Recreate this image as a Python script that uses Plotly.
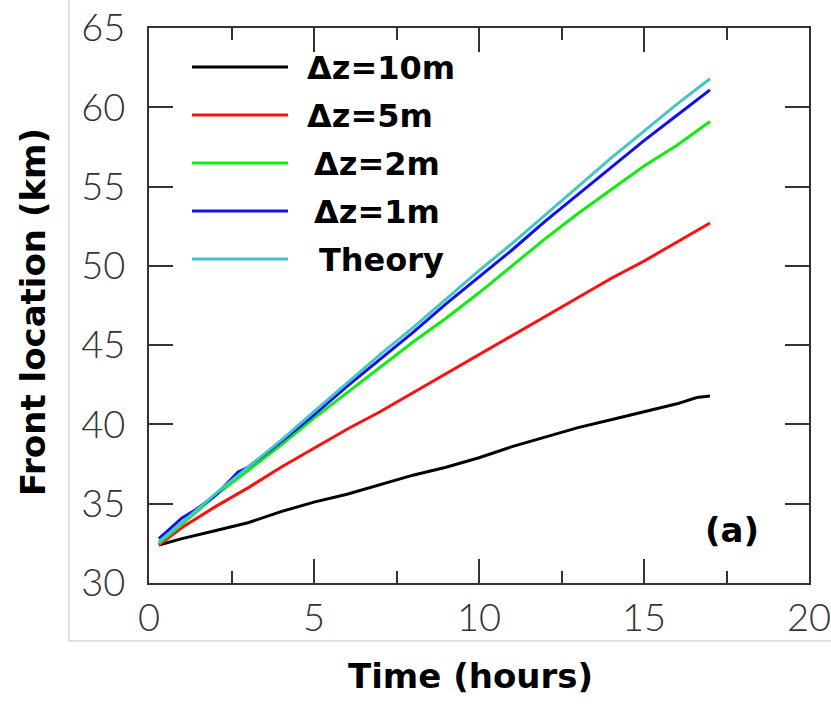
import plotly.graph_objects as go

# ---- data ----
t_black = [0.3, 1, 2, 3, 4, 5, 6, 7, 8, 9, 10, 11, 12, 13, 14, 15, 16, 16.6, 17]
v_black = [32.4, 32.8, 33.3, 33.8, 34.5, 35.1, 35.6, 36.2, 36.8, 37.3, 37.9, 38.6, 39.2, 39.8, 40.3, 40.8, 41.3, 41.7, 41.8]

t_red = [0.3, 0.7, 1, 2, 3, 4, 5, 6, 7, 8, 9, 10, 11, 12, 13, 14, 15, 16, 17]
v_red = [32.4, 33.0, 33.5, 34.8, 36.0, 37.3, 38.5, 39.7, 40.8, 42.0, 43.2, 44.4, 45.6, 46.8, 48.0, 49.2, 50.3, 51.5, 52.7]

t_green = [0.3, 1, 2, 3, 4, 5, 6, 7, 8, 9, 10, 11, 12, 13, 14, 15, 16, 17]
v_green = [32.5, 33.7, 35.5, 37.1, 38.7, 40.4, 42.0, 43.6, 45.2, 46.7, 48.3, 50.0, 51.7, 53.3, 54.8, 56.3, 57.6, 59.1]

t_blue = [0.3, 1, 1.4, 2, 2.7, 3, 4, 5, 6, 7, 8, 9, 10, 11, 12, 13, 14, 15, 16, 17]
v_blue = [32.8, 34.1, 34.6, 35.5, 37.0, 37.3, 38.9, 40.6, 42.4, 44.1, 45.8, 47.6, 49.3, 51.0, 52.8, 54.5, 56.2, 57.9, 59.5, 61.1]

t_theory = [0.3, 1, 2, 3, 4, 5, 6, 7, 8, 9, 10, 11, 12, 13, 14, 15, 16, 17]
v_theory = [32.6, 33.8, 35.6, 37.3, 39.0, 40.8, 42.6, 44.4, 46.1, 47.9, 49.7, 51.4, 53.2, 55.0, 56.8, 58.5, 60.2, 61.8]

series_names = ["\u0394z=10m", "\u0394z=5m", "\u0394z=2m", "\u0394z=1m", "Theory"]
series_t = [t_black, t_red, t_green, t_blue, t_theory]
series_v = [v_black, v_red, v_green, v_blue, v_theory]
series_colors = ["#000000", "#ff1010", "#10ee10", "#1010f0", "#45c6c6"]

x_ticks = [0, 5, 10, 15, 20]
y_ticks = [30, 35, 40, 45, 50, 55, 60, 65]

# ---- layout geometry (pixels) ----
W, H = 831, 711
L, R, T, B = 149, 809, 28, 583


def px(x):
    return (x - L) / (R - L)


def py(y):
    return (B - y) / (B - T)


fig = go.Figure()
for name, tt, vv, col in zip(series_names, series_t, series_v, series_colors):
    fig.add_trace(go.Scatter(x=tt, y=vv, mode="lines", name=name,
                             line=dict(color=col, width=3), showlegend=False))

axis_common = dict(
    showgrid=False, zeroline=False, showline=True, linecolor="#333333", linewidth=2,
    mirror="allticks", ticks="inside", ticklen=24, tickwidth=2, tickcolor="#333333",
    tickfont=dict(family="Lato", size=38, color="#333333", weight=300),
    ticklabeloverflow="allow", automargin=False,
)

fig.update_xaxes(range=[0, 20], tickvals=x_ticks, ticktext=[str(v) for v in x_ticks],
                 minor=dict(ticks="inside", ticklen=12, dtick=2.5, tick0=0,
                            tickwidth=2, tickcolor="#333333"),
                 ticklabelstandoff=0, **axis_common)
fig.update_yaxes(range=[30, 65], tickvals=y_ticks, ticktext=[str(v) for v in y_ticks],
                 ticklabelstandoff=14, **axis_common)

shapes = []
annotations = []

# light gray outer frame
shapes.append(dict(type="rect", xref="paper", yref="paper",
                   x0=px(69), x1=px(840), y0=py(641), y1=py(-5),
                   line=dict(color="#c4c4c4", width=1), layer="below"))

# custom legend
leg_y = [67, 115, 163, 211, 259]
leg_text_x = [305, 305, 312, 312, 317]
for name, col, yy, tx in zip(series_names, series_colors, leg_y, leg_text_x):
    shapes.append(dict(type="line", xref="paper", yref="paper",
                       x0=px(192), x1=px(288), y0=py(yy), y1=py(yy),
                       line=dict(color=col, width=3)))
    annotations.append(dict(text=name, xref="paper", yref="paper", x=px(tx), y=py(yy + 1),
                            xanchor="left", yanchor="middle", showarrow=False,
                            font=dict(family="DejaVu Sans", size=32, color="#000000", weight="bold")))

# panel label
annotations.append(dict(text="(a)", xref="paper", yref="paper", x=px(732), y=py(530),
                        xanchor="center", yanchor="middle", showarrow=False,
                        font=dict(family="DejaVu Sans", size=34, color="#000000", weight="bold")))

# axis titles
annotations.append(dict(text="Time (hours)", xref="paper", yref="paper", x=px(470), y=py(676),
                        xanchor="center", yanchor="middle", showarrow=False,
                        font=dict(family="DejaVu Sans", size=34, color="#000000", weight="bold")))
annotations.append(dict(text="Front location (km)", xref="paper", yref="paper", x=px(33), y=py(312),
                        xanchor="center", yanchor="middle", showarrow=False, textangle=-90,
                        font=dict(family="DejaVu Sans", size=34, color="#000000", weight="bold")))

fig.update_layout(
    width=W, height=H, autosize=False,
    margin=dict(l=L, r=W - R, t=T, b=H - B, pad=0, autoexpand=False),
    paper_bgcolor="white", plot_bgcolor="white",
    shapes=shapes, annotations=annotations, showlegend=False,
)

fig.write_html("out.html")
